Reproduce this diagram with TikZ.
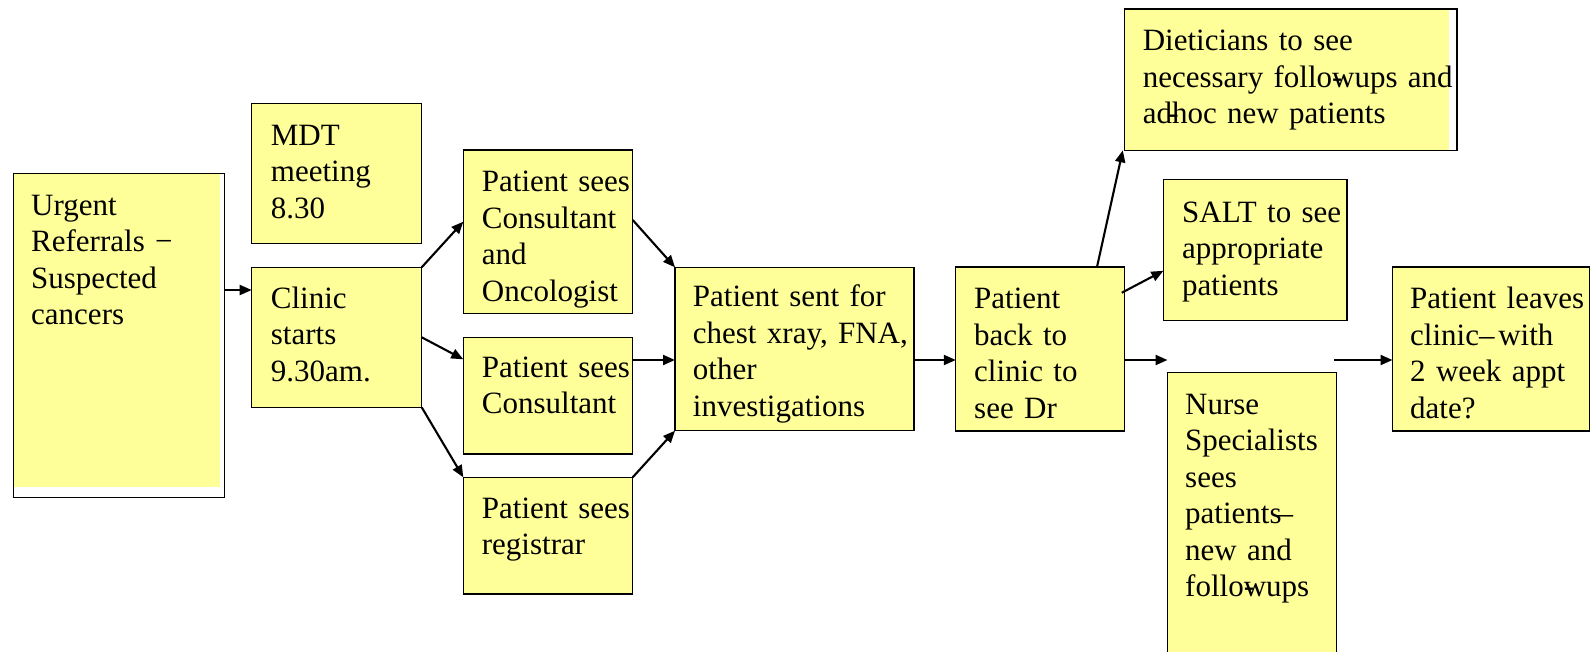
\documentclass[tikz,border=0pt]{standalone}
\usepackage{fontspec}
\setmainfont{Liberation Serif}
\usetikzlibrary{arrows.meta}
\definecolor{boxyellow}{RGB}{255,255,153}
\begin{document}
\begin{tikzpicture}[x=1pt,y=-1pt,
  box/.style={draw=black,line width=1.3pt,fill=boxyellow,rectangle,inner sep=0pt,outer sep=0pt,anchor=north west},
  openbox/.style={draw=black,line width=1.3pt,rectangle,inner sep=0pt,outer sep=0pt,anchor=north west},
  txt/.style={inner sep=0pt,anchor=base west,text width=14cm,align=left,font=\fontsize{31}{36.5}\selectfont},
  arr/.style={line width=2.1pt,-{Triangle[length=12pt,width=10pt]}}]
\clip (0,0) rectangle (1591,651);
\fill[white] (0,0) rectangle (1591,651);

% boxes
\node[openbox,minimum width=211pt,minimum height=324pt] (urgent) at (13.3,173.3) {};
\fill[boxyellow] ([xshift=0.65pt,yshift=-0.65pt]urgent.north west) rectangle ([xshift=-4pt,yshift=10pt]urgent.south east);
\node[box,minimum width=170pt,minimum height=140pt] (mdt) at (251.7,103.3) {};
\node[box,minimum width=170pt,minimum height=140pt] (clinic) at (251.7,267.3) {};
\node[box,minimum width=169.4pt,minimum height=163.3pt] (psco) at (463.3,150) {};
\node[box,minimum width=169.4pt,minimum height=116.7pt] (psc) at (463.3,337.3) {};
\node[box,minimum width=169.4pt,minimum height=116.7pt] (psr) at (463.3,477.3) {};
\node[box,minimum width=239pt,minimum height=163.4pt] (psf) at (675,267.3) {};
\node[box,minimum width=169pt,minimum height=164pt] (back) at (955.8,267) {};
\node[openbox,minimum width=332.1pt,minimum height=141.2pt] (diet) at (1124.8,9.1) {};
\fill[boxyellow] ([xshift=0.65pt,yshift=-0.65pt]diet.north west) rectangle ([xshift=-8pt,yshift=0.65pt]diet.south east);
\node[box,minimum width=183.5pt,minimum height=140.7pt] (salt) at (1163.4,179.8) {};
\node[box,minimum width=169pt,minimum height=300pt] (nurse) at (1167.5,372.8) {};
\node[box,minimum width=197.2pt,minimum height=164pt] (leaves) at (1392.5,267) {};

% texts
\node[txt] (turgent) at (31,215) {Urgent\\Referrals −\\Suspected\\cancers};
\node[txt] (tmdt) at (270.7,145) {MDT\\meeting\\8.30};
\node[txt] (tclinic) at (270.7,308.3) {Clinic\\starts\\9.30am.};
\node[txt] (tpsco) at (481.7,191.7) {Patient sees\\Consultant\\and\\Oncologist};
\node[txt] (tpsc) at (481.7,377.3) {Patient sees\\Consultant};
\node[txt] (tpsr) at (481.7,518.3) {Patient sees\\registrar};
\node[txt] (tpsf) at (692.7,306.7) {Patient sent for\\chest xray, FNA,\\other\\investigations};
\node[txt] (tback) at (974,308.5) {Patient\\back to\\clinic to\\see Dr};
\node[txt] (tdiet) at (1142.6,50.7) {Dieticians to see\\necessary follo\rlap{-}wups and\\ad\rlap{\kern-0.12em-}hoc new patients};
\node[txt] (tsalt) at (1182,222) {SALT to see\\appropriate\\patients};
\node[txt] (tnurse) at (1185,414.3) {Nurse\\Specialists\\sees\\patients\kern-0.13em–\\new and\\follo\rlap{-}wups};
\node[txt] (tleaves) at (1410,308.5) {Patient leaves\\clinic–\hspace{0.12em}with\\2 week appt\\date?};

% connectors
\coordinate (row) at (0,360);
\coordinate (nurseinto) at (1167.5,360);
\coordinate (nurseout) at (1334.4,360);
\draw[arr] (urgent.east |- 0,290) -- (clinic.west |- 0,290);
\draw[arr] (clinic.north east) -- ([yshift=10pt]psco.west);
\draw[arr] (clinic.east) -- ([yshift=-22pt]psc.north west);
\draw[arr] (clinic.south east) -- (psr.north west);
\draw[arr] ([yshift=11.7pt]psco.east) -- (psf.north west);
\draw[arr] (psc.east |- row) -- (psf.west |- row);
\draw[arr] (psr.north east) -- (psf.south west);
\draw[arr] (psf.east |- row) -- (back.west |- row);
\draw[arr] ([xshift=-27.8pt]back.north east) -- ([xshift=-2pt]diet.south west);
\draw[arr] ([xshift=-3pt,yshift=-25.7pt]back.north east) -- ([yshift=-91pt]salt.north west);
\draw[arr] (back.east |- row) -- (nurseinto);
\draw[arr] (nurseout) -- (leaves.west |- row);
\end{tikzpicture}
\end{document}
